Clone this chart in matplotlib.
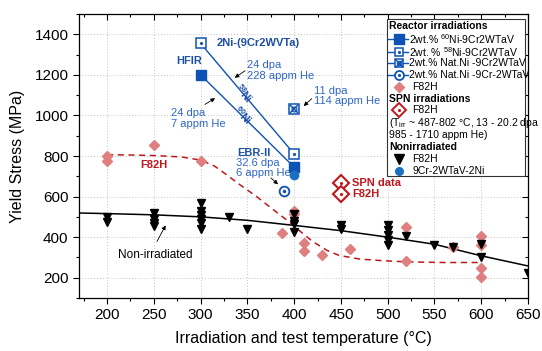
import numpy as np
import matplotlib
matplotlib.use('Agg')
import matplotlib.pyplot as plt
from matplotlib.patches import Rectangle
from matplotlib.ticker import MultipleLocator

plt.rcParams['font.family'] = ['Liberation Sans', 'DejaVu Sans']
plt.rcParams['mathtext.fontset'] = 'custom'
plt.rcParams['mathtext.rm'] = 'Liberation Sans'
plt.rcParams['mathtext.it'] = 'Liberation Sans:italic'
plt.rcParams['mathtext.bf'] = 'Liberation Sans:bold'

# Reactor irradiated 9Cr-2Ni alloys
ni60_t = [300, 400]
ni60_ys = [1200, 745]
ni58_t = [300, 400]
ni58_ys = [1355, 810]
natni_t = [400]
natni_ys = [1033]
natni2_t = [389]
natni2_ys = [628]
# Non-irradiated 9Cr-2WTaV-2Ni
ni_unirr_t = [400]
ni_unirr_ys = [707]

# Reactor irradiated F82H
f82h_irr_t = [200, 200, 250, 300, 387, 400, 400, 410, 410, 430, 460, 520, 520, 570, 600, 600, 600, 600]
f82h_irr_ys = [800, 775, 852, 776, 420, 527, 512, 372, 330, 310, 340, 452, 280, 352, 405, 360, 247, 205]

# Non-irradiated F82H
f82h_un_t = [200, 200, 250, 250, 250, 250, 300, 300, 300, 300, 300, 300, 330, 350,
             400, 400, 400, 400, 450, 450, 500, 500, 500, 500, 500, 520, 550, 570, 600, 600, 650]
f82h_un_ys = [497, 473, 517, 489, 470, 455, 570, 530, 510, 487, 470, 440, 500, 440,
              514, 481, 465, 425, 460, 440, 460, 435, 411, 388, 360, 404, 363, 353, 366, 302, 224]

# SPN data (legend-like markers in plot)
spn_t = [450, 450]
spn_ys = [665, 612]

# trend curves
irr_fit_t = [200, 225, 252, 280, 300, 315, 327, 343, 359, 377, 395, 410, 420, 435, 448, 470, 491, 520, 560, 600]
irr_fit_ys = [806, 805, 802, 795, 780, 750, 710, 655, 603, 538, 474, 415, 378, 335, 310, 292, 285, 278, 275, 275]
un_fit_t = [170, 200, 250, 300, 350, 400, 450, 500, 550, 600, 650]
un_fit_ys = [519, 516, 510, 500, 483, 458, 432, 400, 365, 308, 258]

blue = '#0f52b5'
tblue = '#2f66c6'
bblue = '#1c4fa6'
dred = '#c0171c'
pink = '#e07f80'

fig = plt.figure(figsize=(5.42, 3.51), dpi=100)
ax = fig.add_axes([79 / 542, 1 - 298 / 351, 449 / 542, 284 / 351])

ax.set_xlim(170, 650)
ax.set_ylim(100, 1500)
ax.xaxis.set_major_locator(MultipleLocator(50))
ax.xaxis.set_minor_locator(MultipleLocator(25))
ax.yaxis.set_major_locator(MultipleLocator(200))
ax.yaxis.set_minor_locator(MultipleLocator(100))
ax.set_xticks(np.arange(200, 651, 50))
ax.set_yticks(np.arange(200, 1401, 200))
ax.grid(True, which='major', linestyle=(0, (1, 2)), color='#c4c4c4', lw=0.7)
ax.tick_params(which='both', labelsize=11, direction='out', width=0.8)
ax.tick_params(which='major', length=4)
ax.tick_params(which='minor', length=2.5)
ax.tick_params(which='both', top=True, right=True)
for s in ax.spines.values():
    s.set_linewidth(0.9)
ax.set_xlabel('Irradiation and test temperature (°C)', fontsize=11.5, labelpad=6)
ax.set_ylabel('Yield Stress (MPa)', fontsize=11.5, labelpad=7)

# top/right ticks point inwards
for t in ax.xaxis.get_major_ticks() + ax.xaxis.get_minor_ticks():
    t.tick2line.set_marker(3)
for t in ax.yaxis.get_major_ticks() + ax.yaxis.get_minor_ticks():
    t.tick2line.set_marker(0)

# trend lines
ax.plot(irr_fit_t, irr_fit_ys, ls=(0, (4, 3)), color=dred, lw=1.1, zorder=2)
ax.plot(un_fit_t, un_fit_ys, color='black', lw=1.1, zorder=2)

# F82H points
ax.plot(f82h_irr_t, f82h_irr_ys, 'D', ms=5.5, color=pink, mec=pink, ls='none', zorder=3)
ax.plot(f82h_un_t, f82h_un_ys, 'v', ms=6, color='black', ls='none', zorder=4)

# Ni alloys
ax.plot(ni58_t, ni58_ys, '-', color=blue, lw=1.0, zorder=3)
ax.plot(ni58_t, ni58_ys, 's', ms=6.5, mfc='white', mec=blue, mew=1.1, ls='none', zorder=5)
ax.plot(ni58_t, ni58_ys, '.', ms=2.5, color=blue, ls='none', zorder=6)
ax.plot(ni60_t, ni60_ys, '-', color=blue, lw=1.0, zorder=3)
ax.plot(ni60_t, ni60_ys, 's', ms=7, color=blue, ls='none', zorder=5)
ax.plot(natni_t, natni_ys, 's', ms=6.5, mfc='white', mec=blue, mew=1.1, ls='none', zorder=5)
ax.plot(natni_t, natni_ys, 'x', ms=6, mec=blue, mew=1.1, ls='none', zorder=6)
ax.plot(natni_t, natni_ys, 'o', ms=3.5, mfc='none', mec=blue, mew=0.9, ls='none', zorder=6)
ax.plot(natni2_t, natni2_ys, 'o', ms=7, mfc='white', mec=blue, mew=1.3, ls='none', zorder=5)
ax.plot(natni2_t, natni2_ys, '.', ms=3, color=blue, ls='none', zorder=6)
ax.plot(ni_unirr_t, ni_unirr_ys, 'o', ms=6, color='#1a6fc0', ls='none', zorder=5)

# SPN markers
ax.plot(spn_t, spn_ys, 'D', ms=8, mfc='white', mec=dred, mew=1.5, ls='none', zorder=5)
ax.plot(spn_t, spn_ys, '.', ms=2.5, color=dred, ls='none', zorder=6)
ax.text(462, 665, 'SPN data', color=dred, fontsize=8, fontweight='bold', va='center')
ax.text(462, 612, 'F82H', color=dred, fontsize=8, fontweight='bold', va='center')

# annotations
ax.text(317, 1355, '2Ni-(9Cr2WVTa)', color=bblue, fontsize=8, fontweight='bold', va='center')
ax.text(274, 1268, 'HFIR', color=bblue, fontsize=8, fontweight='bold', va='center')
ax.text(339, 817, 'EBR-II', color=bblue, fontsize=8, fontweight='bold', va='center')
ax.text(250, 757, 'F82H', color=dred, fontsize=8, fontweight='bold', va='center', ha='center')
ax.text(338, 740, '32.6 dpa\n6 appm He', color=tblue, fontsize=8, va='center', linespacing=1.05)
ax.text(350, 1222, '24 dpa\n228 appm He', color=tblue, fontsize=8, va='center', linespacing=1.05)
ax.text(268, 985, '24 dpa\n7 appm He', color=tblue, fontsize=8, va='center', linespacing=1.05)
ax.text(421, 1097, '11 dpa\n114 appm He', color=tblue, fontsize=8, va='center', linespacing=1.05)
ax.text(252, 313, 'Non-irradiated', color='black', fontsize=8.5, va='center', ha='center')
ax.text(346, 1108, r'$\mathbf{^{58}}$Ni', color=bblue, fontsize=7.5, fontweight='bold',
        rotation=-50, ha='center', va='center', rotation_mode='anchor')
ax.text(345, 1001, r'$\mathbf{^{60}}$Ni', color=bblue, fontsize=7.5, fontweight='bold',
        rotation=-45, ha='center', va='center', rotation_mode='anchor')

arr = dict(arrowstyle='-|>', color='black', lw=0.6, mutation_scale=6)
ax.annotate('', xy=(334, 1178), xytext=(350, 1228), arrowprops=arr)
ax.annotate('', xy=(318, 1092), xytext=(302, 1047), arrowprops=arr)
ax.annotate('', xy=(408, 1037), xytext=(421, 1092), arrowprops=arr)
ax.annotate('', xy=(385, 651), xytext=(373, 701), arrowprops=arr)
ax.annotate('', xy=(264, 470), xytext=(252, 367), arrowprops=arr)

# legend box drawn in axes fraction
lx0, lx1, ly0, ly1 = 0.685, 0.993, 0.430, 0.982
ax.add_patch(Rectangle((lx0, ly0), lx1 - lx0, ly1 - ly0, transform=ax.transAxes,
                       facecolor='white', edgecolor='#333333', lw=0.8, zorder=10))
rows = [(298 - p) / 284 for p in [26, 39.3, 52.3, 63.3, 75, 87.3, 99, 110, 122.7, 135, 146.7, 159.3, 170.5]]
hx, mx, tx_line, tx_pt = 0.690, 0.713, 0.736, 0.743
tr = ax.transAxes
lkw = dict(transform=tr, zorder=12, clip_on=False)
fs = 7.5


def head(y, s):
    ax.text(hx, y, s, transform=tr, fontsize=fs, fontweight='bold', va='center', zorder=12)


def label(x, y, s):
    ax.text(x, y, s, transform=tr, fontsize=fs, va='center', zorder=12)


head(rows[0], 'Reactor irradiations')
for r in rows[1:5]:
    ax.plot([0.688, 0.732], [r, r], color=blue, lw=1.0, **lkw)
ax.plot([mx], [rows[1]], 's', ms=6.5, color=blue, **lkw)
label(tx_line, rows[1], r'2wt.% $\mathregular{^{60}}$Ni-9Cr2WTaV')
ax.plot([mx], [rows[2]], 's', ms=6, mfc='white', mec=blue, mew=1.1, **lkw)
ax.plot([mx], [rows[2]], '.', ms=2.5, color=blue, **lkw)
label(tx_line, rows[2], r'2wt. % $\mathregular{^{58}}$Ni-9Cr2WTaV')
ax.plot([mx], [rows[3]], 's', ms=6, mfc='white', mec=blue, mew=1.1, **lkw)
ax.plot([mx], [rows[3]], 'x', ms=5.5, mec=blue, mew=1.0, **lkw)
ax.plot([mx], [rows[3]], 'o', ms=3.2, mfc='none', mec=blue, mew=0.8, **lkw)
label(tx_line, rows[3], '2wt.% Nat.Ni -9Cr2WTaV')
ax.plot([mx], [rows[4]], 'o', ms=6.5, mfc='white', mec=blue, mew=1.3, **lkw)
ax.plot([mx], [rows[4]], '.', ms=2.5, color=blue, **lkw)
label(tx_line, rows[4], '2wt.% Nat.Ni -9Cr-2WTaV')
ax.plot([mx], [rows[5]], 'D', ms=5.5, color=pink, **lkw)
label(tx_pt, rows[5], 'F82H')
head(rows[6], 'SPN irradiations')
ax.plot([mx], [rows[7]], 'D', ms=7.5, mfc='white', mec=dred, mew=1.4, **lkw)
ax.plot([mx], [rows[7]], '.', ms=2.5, color=dred, **lkw)
label(tx_pt, rows[7], 'F82H')
label(hx, rows[8], r'(T$_{\mathregular{irr}}$ ~ 487-802 °C, 13 - 20.2 dpa')
label(hx, rows[9], '985 - 1710 appm He)')
head(rows[10], 'Nonirradiated')
ax.plot([mx], [rows[11]], 'v', ms=6.5, color='black', **lkw)
label(tx_pt, rows[11], 'F82H')
ax.plot([mx], [rows[12]], 'o', ms=5.5, color='#1a6fc0', **lkw)
label(tx_pt, rows[12], '9Cr-2WTaV-2Ni')

fig.savefig('out.png', dpi=100)
